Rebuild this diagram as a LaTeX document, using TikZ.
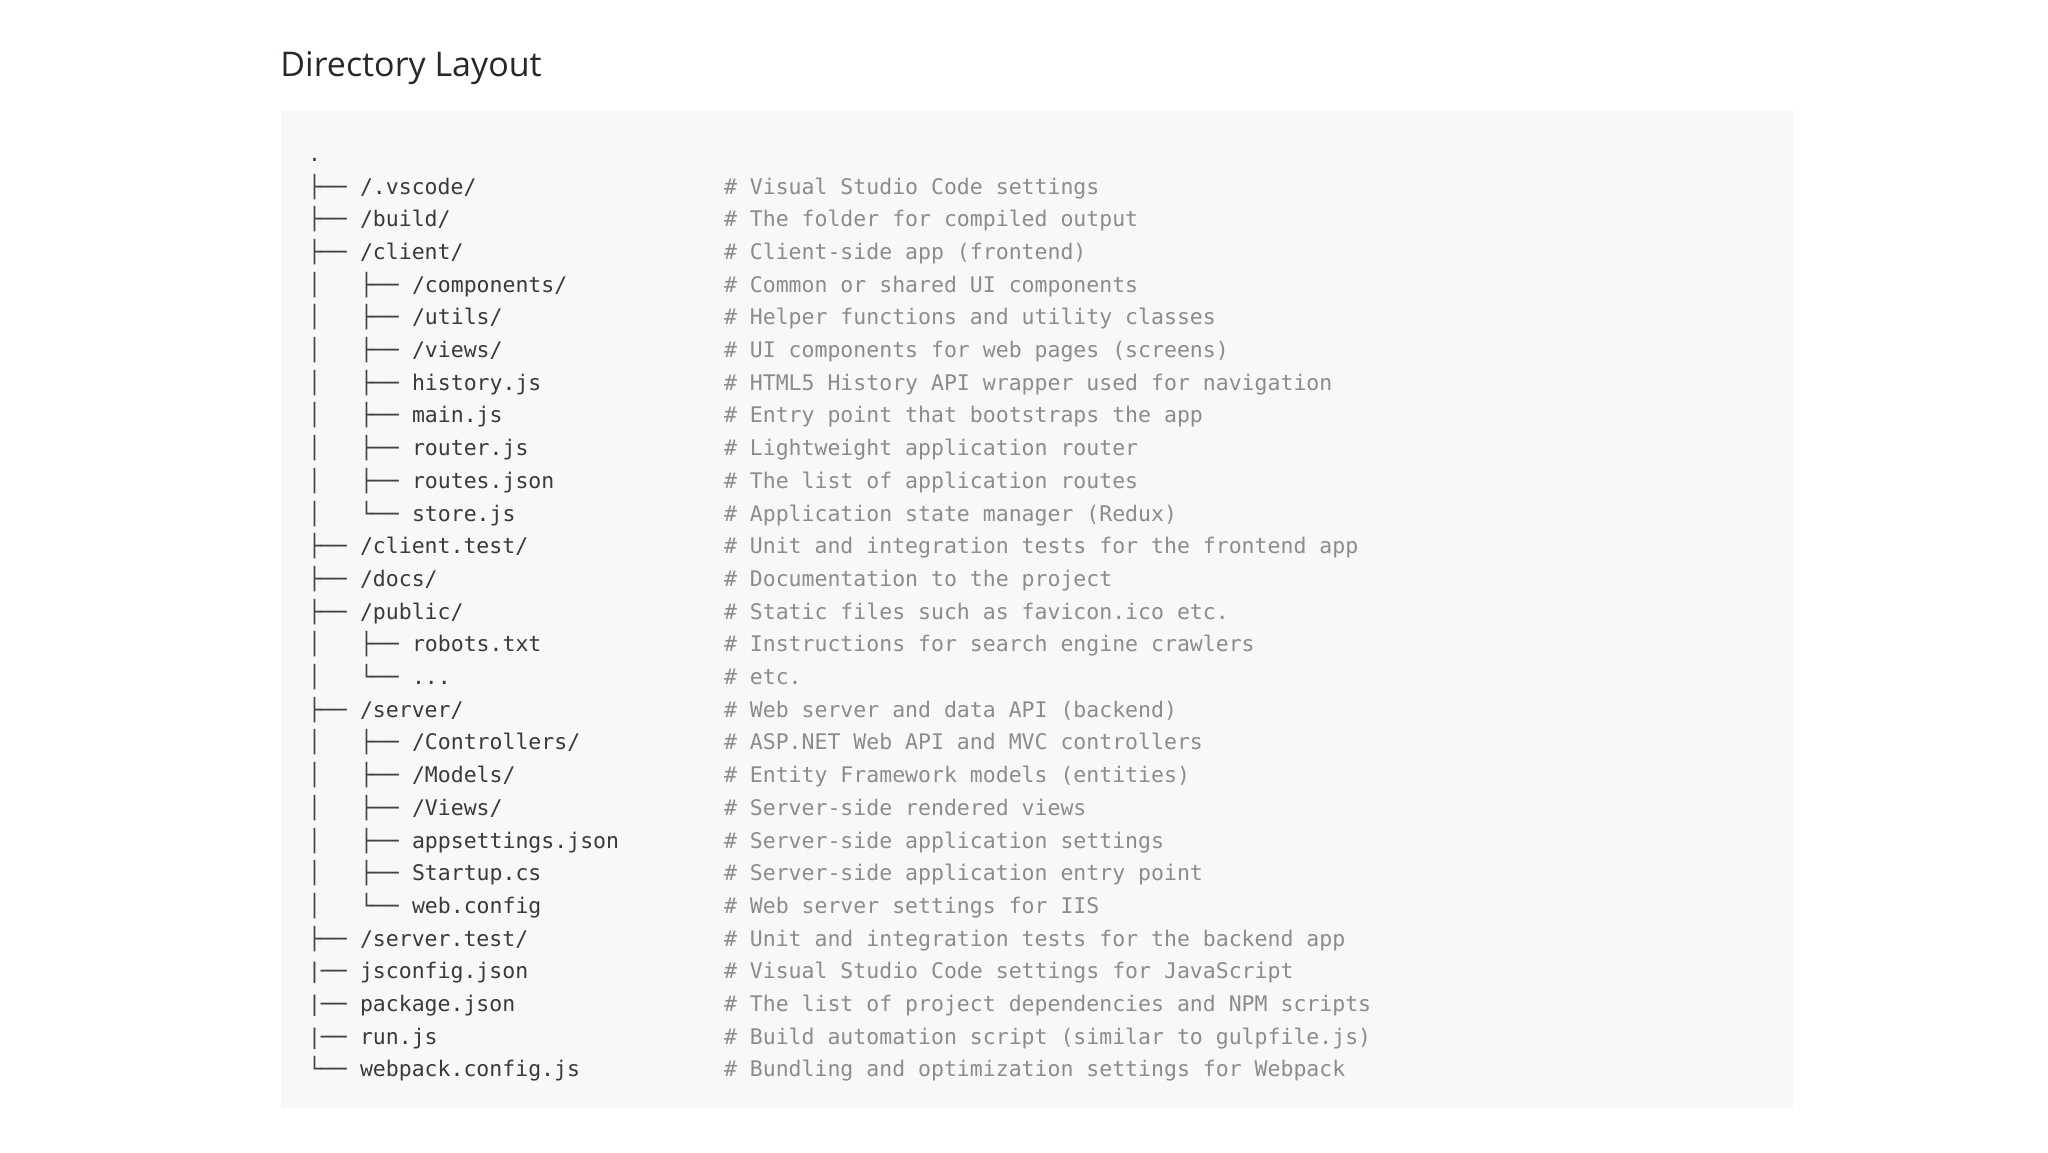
\documentclass[tikz,border=0pt]{standalone}
\usepackage{fontspec}
\setmainfont{Open Sans}
\newfontfamily\codefont{DejaVu Sans Mono}[Scale=1.0]
\definecolor{boxbg}{HTML}{F6F8FA}
\definecolor{titlecol}{HTML}{24292E}
\definecolor{namecol}{HTML}{3A3A3A}
\definecolor{treecol}{HTML}{444444}
\definecolor{commentcol}{HTML}{8C8C8C}
\tikzset{
  code/.style={anchor=base west, inner sep=0pt, outer sep=0pt, font=\codefont\fontsize{10.75pt}{12pt}\selectfont},
  tree/.style={code, text=treecol},
  fname/.style={code, text=namecol},
  comm/.style={code, text=commentcol},
}
% row baseline: 194 + (k-1)*32.7 px
\newcommand{\rowy}[1]{\fpeval{194+(#1-1)*32.7}}
% level-1 row: #1 row, #2 branch, #3 name, #4 comment
\newcommand{\lone}[4]{%
  \node[tree]  (b#1) at (308,{\rowy{#1}}) {#2};
  \node[fname] (n#1) at (360,{\rowy{#1}}) {#3};
  \node[comm]  (c#1) at (724,{\rowy{#1}}) {\# #4};
}
% level-2 row
\newcommand{\ltwo}[4]{%
  \node[tree]  (v#1) at (308,{\rowy{#1}}) {│};
  \node[tree]  (b#1) at (360,{\rowy{#1}}) {#2};
  \node[fname] (n#1) at (412,{\rowy{#1}}) {#3};
  \node[comm]  (c#1) at (724,{\rowy{#1}}) {\# #4};
}
\begin{document}
\begin{tikzpicture}[x=0.5pt,y=-0.5pt]
\useasboundingbox[fill=white] (0,0) rectangle (2048,1152);
\fill[boxbg] (281,111) rectangle (1793,1108);
\node[anchor=base west, inner sep=0pt, text=titlecol, font=\fontsize{17pt}{20pt}\selectfont] (title) at (280,76) {Directory Layout};
\node[tree] (root) at (308,{\rowy{0}}) {.};
\lone{1}{├──}{/.vscode/}{Visual Studio Code settings}
\lone{2}{├──}{/build/}{The folder for compiled output}
\lone{3}{├──}{/client/}{Client-side app (frontend)}
\ltwo{4}{├──}{/components/}{Common or shared UI components}
\ltwo{5}{├──}{/utils/}{Helper functions and utility classes}
\ltwo{6}{├──}{/views/}{UI components for web pages (screens)}
\ltwo{7}{├──}{history.js}{HTML5 History API wrapper used for navigation}
\ltwo{8}{├──}{main.js}{Entry point that bootstraps the app}
\ltwo{9}{├──}{router.js}{Lightweight application router}
\ltwo{10}{├──}{routes.json}{The list of application routes}
\ltwo{11}{└──}{store.js}{Application state manager (Redux)}
\lone{12}{├──}{/client.test/}{Unit and integration tests for the frontend app}
\lone{13}{├──}{/docs/}{Documentation to the project}
\lone{14}{├──}{/public/}{Static files such as favicon.ico etc.}
\ltwo{15}{├──}{robots.txt}{Instructions for search engine crawlers}
\ltwo{16}{└──}{...}{etc.}
\lone{17}{├──}{/server/}{Web server and data API (backend)}
\ltwo{18}{├──}{/Controllers/}{ASP.NET Web API and MVC controllers}
\ltwo{19}{├──}{/Models/}{Entity Framework models (entities)}
\ltwo{20}{├──}{/Views/}{Server-side rendered views}
\ltwo{21}{├──}{appsettings.json}{Server-side application settings}
\ltwo{22}{├──}{Startup.cs}{Server-side application entry point}
\ltwo{23}{└──}{web.config}{Web server settings for IIS}
\lone{24}{├──}{/server.test/}{Unit and integration tests for the backend app}
\lone{25}{|──}{jsconfig.json}{Visual Studio Code settings for JavaScript}
\lone{26}{|──}{package.json}{The list of project dependencies and NPM scripts}
\lone{27}{|──}{run.js}{Build automation script (similar to gulpfile.js)}
\lone{28}{└──}{webpack.config.js}{Bundling and optimization settings for Webpack}
\end{tikzpicture}
\end{document}
